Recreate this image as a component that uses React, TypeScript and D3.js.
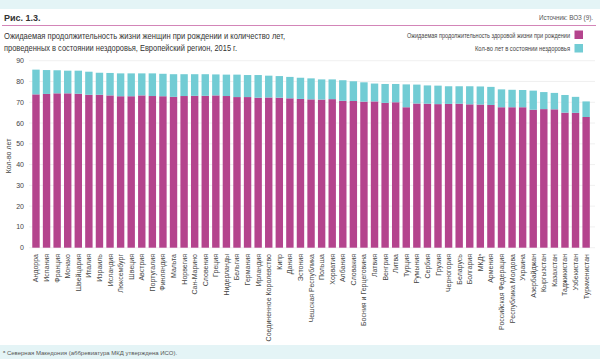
import React from "react";
import * as d3 from "d3";

const countries = [
  "Андорра", "Испания", "Франция", "Монако", "Швейцария", "Италия", "Израиль", "Исландия",
  "Люксембург", "Швеция", "Австрия", "Португалия", "Финляндия", "Мальта", "Норвегия",
  "Сан-Марино", "Словения", "Греция", "Нидерланды", "Бельгия", "Германия", "Ирландия",
  "Соединенное Королевство", "Кипр", "Дания", "Эстония", "Чешская Республика", "Польша",
  "Хорватия", "Албания", "Словакия", "Босния и Герцеговина", "Латвия", "Венгрия", "Литва",
  "Турция", "Румыния", "Сербия", "Грузия", "Черногория", "Беларусь", "Болгария", "МКДᵃ",
  "Армения", "Российская Федерация", "Республика Молдова", "Украина", "Азербайджан",
  "Кыргызстан", "Казахстан", "Таджикистан", "Узбекистан", "Туркменистан",
];

const totalLE = [
  85.7, 85.5, 85.4, 85.2, 85.2, 84.7, 84.2, 84.1, 83.9, 83.9, 83.9, 83.9, 83.7, 83.5, 83.5,
  83.5, 83.5, 83.4, 83.3, 83.3, 83.1, 83.1, 82.8, 82.6, 82.2, 81.8, 81.5, 81.0, 81.0, 80.6,
  80.1, 79.6, 79.0, 78.8, 78.8, 78.6, 78.5, 78.1, 78.0, 77.7, 77.7, 77.7, 77.6, 77.4, 76.2,
  76.0, 75.9, 75.6, 74.9, 74.5, 73.5, 72.6, 70.4,
];

const healthyLE = [
  73.8, 74.0, 74.3, 74.3, 74.1, 73.6, 73.6, 73.3, 72.9, 72.9, 73.3, 73.0, 72.9, 72.6, 73.0,
  73.1, 73.1, 73.3, 73.0, 72.5, 72.5, 72.2, 72.3, 72.2, 71.9, 71.6, 71.4, 71.3, 71.5, 70.7,
  70.6, 70.3, 70.4, 69.7, 70.0, 67.6, 69.4, 69.3, 69.1, 69.2, 69.3, 69.0, 68.9, 68.7, 67.6,
  67.6, 67.6, 66.4, 66.7, 66.6, 65.0, 64.9, 62.9,
];

const yTicks = [0, 10, 20, 30, 40, 50, 60, 70, 80, 90];

const seriesNames = [
  "Ожидаемая продолжительность здоровой жизни при рождении",
  "Кол-во лет в состоянии нездоровья",
];
const seriesColors = ["#b4448d", "#72ccd4"];

const titleLines = [
  "Ожидаемая продолжительность жизни женщин при рождении и количество лет,",
  "проведенных в состоянии нездоровья, Европейский регион, 2015 г.",
];

const W = 600;
const H = 359;
const FONT = "'Liberation Sans Narrow', 'Liberation Sans', Arial, sans-serif";

export default function App() {
  const rows = countries.map((c, i) => ({
    country: c,
    healthy: healthyLE[i],
    unhealthy: +(totalLE[i] - healthyLE[i]).toFixed(2),
  }));
  const stack = d3.stack<any>().keys(["healthy", "unhealthy"]);
  const stacked = stack(rows);

  const x = d3
    .scaleBand<string>()
    .domain(countries)
    .range([29.1, 593])
    .paddingInner(0.3)
    .paddingOuter(0.3);
  const y = d3.scaleLinear().domain([0, 90]).range([247.7, 60.7]);

  return (
    <svg
      width={W}
      height={H}
      viewBox={`0 0 ${W} ${H}`}
      style={{ position: "absolute", left: 0, top: 0, background: "#fff" }}
      fontFamily={FONT}
    >
      <rect x={0} y={0} width={W} height={9} fill="#e4f4f6" />
      <rect x={0} y={345} width={W} height={14} fill="#e4f4f6" />

      <text x={4} y={21} fontSize={9} fontWeight="bold" fill="#333">Рис. 1.3.</text>
      <text x={593} y={20} fontSize={6.5} fill="#555" textAnchor="end" textLength={54} lengthAdjust="spacingAndGlyphs">
        Источник: ВОЗ (9).
      </text>
      <line x1={2} x2={596} y1={25.5} y2={25.5} stroke="#d385b8" strokeWidth={1} />

      {titleLines.map((t, i) => (
        <text
          key={i}
          x={4}
          y={39 + i * 12}
          fontSize={9.5}
          fill="#333"
          textLength={i === 0 ? 281 : 233}
          lengthAdjust="spacingAndGlyphs"
        >
          {t}
        </text>
      ))}

      {seriesNames.map((s, i) => (
        <g key={s}>
          <rect x={574.5} y={30.5 + i * 13.5} width={8.5} height={8.5} fill={seriesColors[i]} />
          <text
            x={570}
            y={37.5 + i * 13.5}
            fontSize={6.5}
            fill="#444"
            textAnchor="end"
            textLength={i === 0 ? 163 : 95}
            lengthAdjust="spacingAndGlyphs"
          >
            {s}
          </text>
        </g>
      ))}

      {yTicks.map((t) => (
        <g key={t}>
          <line x1={29} x2={595} y1={y(t)} y2={y(t)} stroke="#ececec" strokeWidth={0.8} />
          <text x={24} y={y(t) + 2.5} fontSize={7} fill="#444" textAnchor="end">
            {t}
          </text>
        </g>
      ))}

      <text
        transform={`translate(11, 156) rotate(-90)`}
        fontSize={7}
        fill="#444"
        textAnchor="middle"
      >
        Кол-во лет
      </text>

      {stacked.map((layer, li) => (
        <g key={li} fill={seriesColors[li]}>
          {layer.map((d: any, i: number) => (
            <rect
              key={i}
              x={x(countries[i])}
              y={y(d[1])}
              width={x.bandwidth()}
              height={y(d[0]) - y(d[1])}
            />
          ))}
        </g>
      ))}

      {countries.map((c) => (
        <text
          key={c}
          transform={`translate(${(x(c) as number) + x.bandwidth() / 2 + 2.5}, 254) rotate(-90)`}
          fontSize={7}
          fill="#444"
          textAnchor="end"
        >
          {c}
        </text>
      ))}

      <text x={3} y={354.5} fontSize={6} fill="#555">
        ᵃ Северная Македония (аббревиатура МКД утверждена ИСО).
      </text>
    </svg>
  );
}
